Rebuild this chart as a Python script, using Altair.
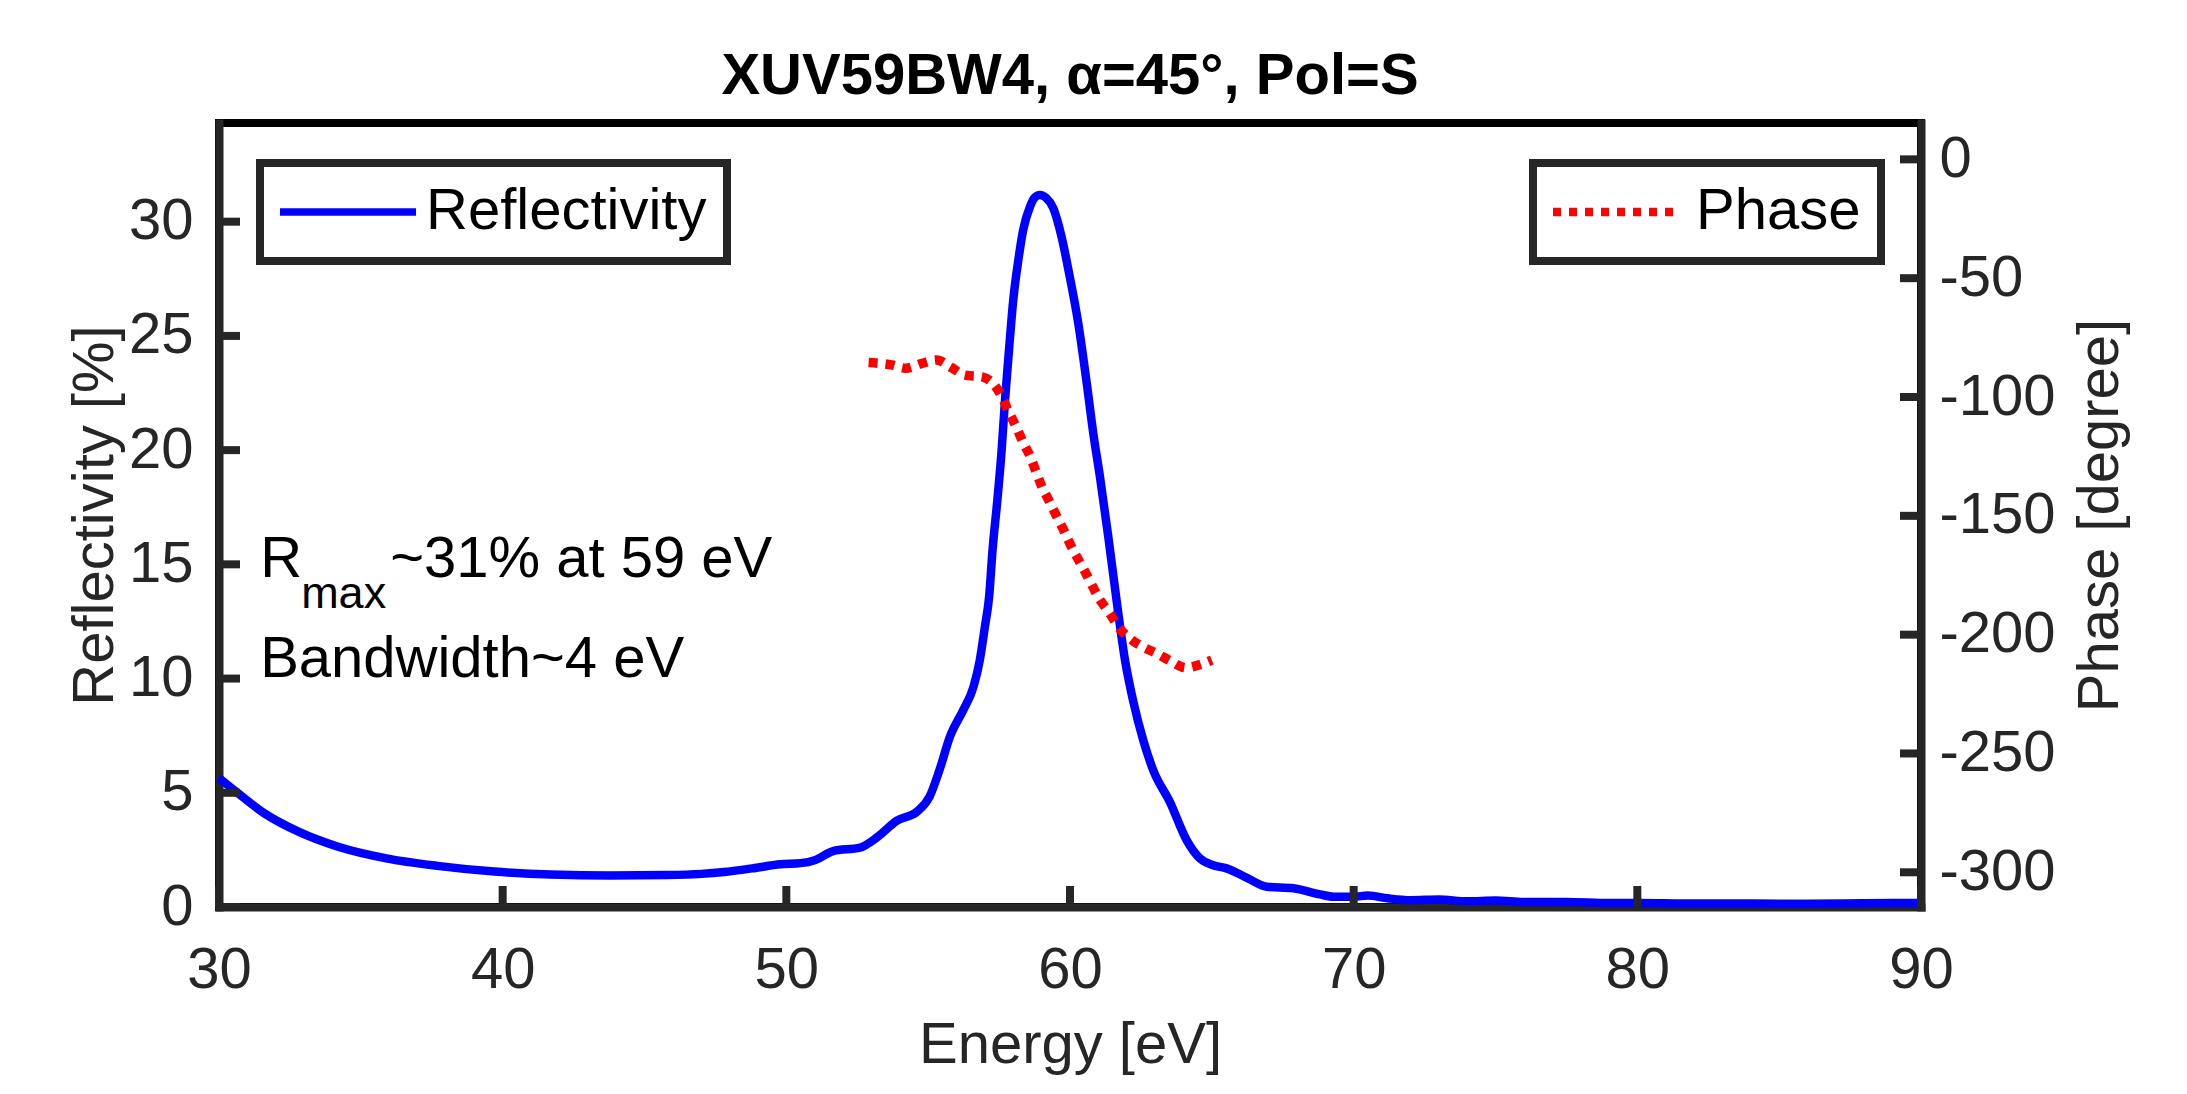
import altair as alt
import pandas as pd

FONT = "Liberation Sans"

# ---------------- data ----------------
energy_r = [30.0, 30.6, 31.6, 32.8, 34.2, 35.9, 37.7, 39.7, 41.7, 43.8, 45.8, 47.0, 47.8, 48.8,
            49.8, 50.5, 51.0, 51.65, 52.6, 53.2, 53.9, 54.6, 55.05, 55.4, 55.77, 56.24, 56.6,
            56.82, 57.0, 57.15, 57.27, 57.44, 57.59, 57.71, 57.85, 58.0, 58.18, 58.35, 58.59,
            58.75, 58.94, 59.15, 59.41, 59.70, 59.99, 60.29, 60.59, 60.82, 61.06, 61.35, 61.64,
            61.94, 62.23, 62.58, 62.93, 63.52, 64.11, 64.58, 65.0, 65.52, 66.2, 66.93, 67.87,
            68.81, 69.3, 70.0, 70.5, 71.2, 72.0, 73.0, 74.0, 75.0, 76.0, 77.5, 79.0, 80.0, 82.0,
            84.0, 86.0, 88.0, 90.0]
reflectivity = [5.65, 5.05, 4.1, 3.3, 2.64, 2.13, 1.80, 1.55, 1.42, 1.38, 1.40, 1.45, 1.53, 1.69,
                1.87, 1.92, 2.05, 2.45, 2.6, 3.05, 3.78, 4.17, 4.83, 6.0, 7.46, 8.63, 9.65,
                10.8, 12.27, 13.6, 15.63, 17.82, 20.0, 22.2, 24.39, 26.58, 28.33, 29.64, 30.66,
                31.05, 31.17, 31.05, 30.59, 29.35, 27.6, 25.56, 22.93, 20.74, 18.8, 16.2, 13.44,
                10.8, 9.0, 7.31, 6.0, 4.6, 2.93, 2.13, 1.85, 1.69, 1.3, 0.89, 0.82,
                0.55, 0.45, 0.45, 0.5, 0.38, 0.3, 0.33, 0.25, 0.28, 0.22, 0.22, 0.17, 0.18, 0.15,
                0.15, 0.14, 0.16, 0.18]

energy_p = [52.9, 53.7, 54.2, 54.8, 55.3, 55.8, 56.3, 56.9, 57.3, 57.6, 57.85, 58.1, 58.35, 58.6,
            58.8, 59.0, 59.25, 59.5, 59.76, 60.0, 60.53, 61.06, 61.4, 61.7, 62.1, 62.56, 63.05,
            63.55, 64.08, 64.6, 65.0]
phase = [-85.5, -86.5, -87.9, -85.8, -84.4, -87.5, -90.8, -91.5, -94.5, -100.0, -106.5, -112.5,
         -119.2, -125.1, -131.4, -137.5, -143.4, -149.5, -155.6, -161.8, -173.5, -185.4, -191.0,
         -196.7, -201.5, -205.1, -207.9, -211.1, -213.9, -212.5, -210.7]

x_ticks = [30, 40, 50, 60, 70, 80, 90]
yl_ticks = [0, 5, 10, 15, 20, 25, 30]
yr_ticks = [0, -50, -100, -150, -200, -250, -300]

ann_x = [31.45, 31.45]
ann_y = [14.43, 10.08]

title_text = "XUV59BW4, \u03b1=45\u00b0, Pol=S"

# ---------------- build ----------------
W, H = 1702, 784
TICK = 21
AX = "#262626"
LBL = "'' + datum.value"

df_r = pd.DataFrame({"Energy": energy_r, "R": reflectivity, "series": "Reflectivity"})
df_p = pd.DataFrame({"Energy": energy_p, "R": phase, "series": "Phase"})

xscale = alt.Scale(domain=[30, 90], nice=False, zero=False)
ylscale = alt.Scale(domain=[0, 34.32], nice=False, zero=False)
yrscale = alt.Scale(domain=[-314.6, 15.3], nice=False, zero=False)

x_axis = alt.Axis(values=x_ticks, title="Energy [eV]", labelPadding=34, labelFlush=False,
                  titleY=155, titleBaseline="alphabetic", labelExpr=LBL)
yl_axis = alt.Axis(values=yl_ticks, orient="left", title="Reflectivity [%]",
                   labelPadding=26, titleX=-107, titleAngle=270, labelFlush=False,
                   titleBaseline="alphabetic", labelExpr=LBL)
yr_axis = alt.Axis(values=yr_ticks, orient="right", title="Phase [degree]",
                   labelPadding=18, titleX=196, titleAngle=270, labelFlush=False,
                   titleBaseline="alphabetic", labelExpr=LBL)

X = alt.X("Energy:Q", scale=xscale, axis=x_axis)
YL = alt.Y("R:Q", scale=ylscale, axis=yl_axis)
YR = alt.Y("R:Q", scale=yrscale, axis=yr_axis)

leg_common = dict(title=None, orient="none", legendY=40, padding=20,
                  symbolType="M-4,0H4", labelFontSize=58, labelFont=FONT,
                  labelColor="black", labelLimit=600, strokeColor=AX)

refl_line = alt.Chart(df_r).mark_line(strokeWidth=8.5, interpolate="monotone").encode(
    x=X, y=YL,
    color=alt.Color("series:N",
                    scale=alt.Scale(domain=["Reflectivity"], range=["#0000ff"]),
                    legend=alt.Legend(legendX=41, symbolStrokeWidth=7.5,
                                      symbolSize=34 * 34, symbolOffset=39, labelOffset=49,
                                      **leg_common)),
)

tick_l = pd.DataFrame({"Energy": [30] * len(yl_ticks), "R": yl_ticks})
left_ticks = alt.Chart(tick_l).mark_rule(strokeWidth=8, color=AX).encode(
    y=YL, x=alt.value(0), x2=alt.value(TICK))

tick_b = pd.DataFrame({"Energy": x_ticks, "R": [0] * len(x_ticks)})
bottom_ticks = alt.Chart(tick_b).mark_rule(strokeWidth=8, color=AX).encode(
    x=X, y=alt.value(H - TICK), y2=alt.value(H))

ann = pd.DataFrame({"Energy": ann_x, "R": ann_y})
ann_r = ann.iloc[[0]]
ann_b = ann.iloc[[1]]

txt_kw = dict(align="left", baseline="alphabetic", font=FONT, color="black")

t_R = alt.Chart(ann_r).mark_text(text="R", fontSize=58, **txt_kw).encode(x=X, y=YL)
t_max = alt.Chart(ann_r).mark_text(text="max", fontSize=45, dx=41, dy=31, **txt_kw).encode(x=X, y=YL)
t_rest = alt.Chart(ann_r).mark_text(text="~31% at 59 eV", fontSize=58, dx=130, **txt_kw).encode(x=X, y=YL)
t_bw = alt.Chart(ann_b).mark_text(text="Bandwidth~4 eV", fontSize=58, **txt_kw).encode(x=X, y=YL)

phase_line = alt.Chart(df_p).mark_line(strokeWidth=9.5, strokeDash=[9, 8], interpolate="monotone",
                                       strokeCap="butt").encode(
    x=X, y=YR,
    color=alt.Color("series:N",
                    scale=alt.Scale(domain=["Phase"], range=["#ff0000"]),
                    legend=alt.Legend(legendX=1314, symbolStrokeWidth=8.5, symbolDash=[8, 8],
                                      symbolSize=31 * 31, symbolOffset=33, labelOffset=52,
                                      **leg_common)),
)

tick_r = pd.DataFrame({"Energy": [90] * len(yr_ticks), "R": yr_ticks})
right_ticks = alt.Chart(tick_r).mark_rule(strokeWidth=8, color=AX).encode(
    y=YR, x=alt.value(W - TICK), x2=alt.value(W))

left_layer = alt.layer(refl_line, left_ticks, bottom_ticks, t_R, t_max, t_rest, t_bw)
right_layer = alt.layer(phase_line, right_ticks)

chart = alt.layer(left_layer, right_layer).resolve_scale(
    y="independent", color="independent").resolve_legend(color="independent").properties(
    width=W, height=H,
    autosize="none",
    padding={"left": 211, "top": 115, "right": 250, "bottom": 176},
    title=alt.Title(title_text, fontSize=58, font=FONT, fontWeight="bold", color="black",
                    anchor="middle", frame="group", baseline="alphabetic", offset=26, dy=55),
).configure_view(
    stroke="black", strokeWidth=8
).configure_axis(
    domainColor=AX, domainWidth=8, domainCap="square",
    labelColor=AX, titleColor=AX, labelFont=FONT, titleFont=FONT,
    labelFontSize=58, titleFontSize=58, titleFontWeight="normal",
    grid=False, ticks=False, tickSize=0,
).configure_legend(
    strokeWidth=8
)

chart.save("out.html", embed_options={"renderer": "svg", "actions": False})
